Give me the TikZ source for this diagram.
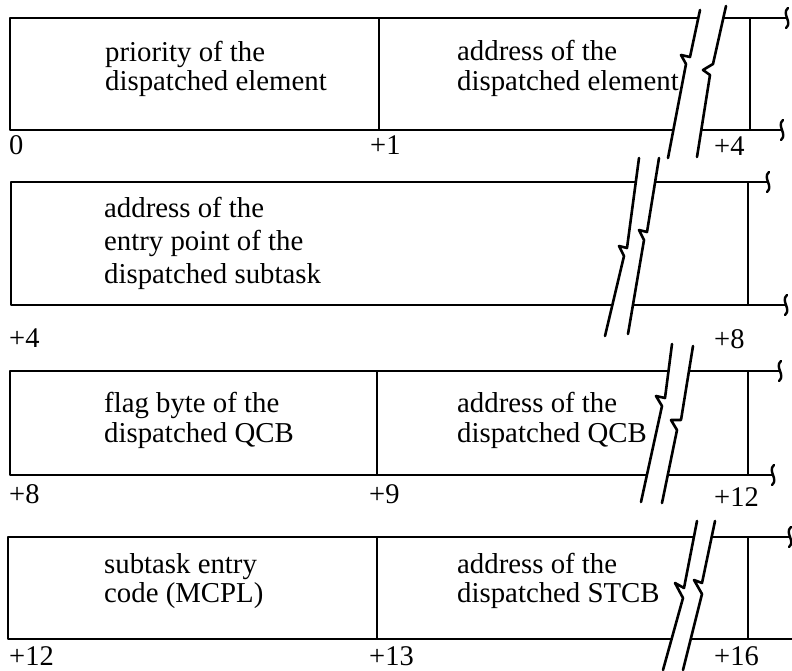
\documentclass[tikz,border=0pt]{standalone}
\usepackage{fontspec}
\setmainfont{Liberation Serif}
\begin{document}
\begin{tikzpicture}[x=1pt,y=-1pt,line join=round,
  txt/.style={inner sep=0pt,anchor=base west,font=\fontsize{28.8}{32}\selectfont},
  off/.style={inner sep=0pt,anchor=base west,font=\fontsize{28.5}{32}\selectfont},
  frame/.style={line width=2.6pt,line cap=butt},
  brk/.style={line width=2.6pt,line cap=round},
  gap/.style={fill=white,draw=none},
  wavy/.pic={\draw[line width=2.4pt,line cap=round] (1,-10) .. controls (-6,-4) and (6,4) .. (-1,10);}]
\useasboundingbox (0,0) rectangle (792,671);

% ---------------- row 1 ----------------
\draw[frame] (786,18) -- (10,18) -- (10,130) -- (781,130);
\draw[frame] (379,18) -- (379,130);
\draw[frame] (750,18) -- (750,130);
\pic at (787,18) {wavy};
\pic at (782,130) {wavy};
\fill[gap] (700,10) -- (690,57) -- (681,55) -- (686,64) -- (668,158)
  -- (697,157) -- (710,75) -- (703,70) -- (713,64) -- (726,6) -- cycle;
\draw[brk] (700,10) -- (690,57) -- (681,55) -- (686,64) -- (668,158);
\draw[brk] (726,6) -- (713,64) -- (703,70) -- (710,75) -- (697,157);
\node[txt] (r1a) at (105,62) {priority of the};
\node[txt] (r1b) at (105,91) {dispatched element};
\node[txt] (r1c) at (457,61) {address of the};
\node[txt] (r1d) at (457,91) {dispatched element};
\node[off] (o0) at (9,155) {0};
\node[off] (o1) at (370,155) {+1};
\node[off] (o4a) at (714,156) {+4};

% ---------------- row 2 ----------------
\draw[frame] (767,182) -- (11,182) -- (11,305) -- (785,305);
\draw[frame] (748,182) -- (748,305);
\pic at (768,182) {wavy};
\pic at (786,305) {wavy};
\fill[gap] (639,158) -- (627,248) -- (619,246) -- (624,256) -- (605,336)
  -- (628,334) -- (644,240) -- (639,230) -- (647,232) -- (659,158) -- cycle;
\draw[brk] (639,158) -- (627,248) -- (619,246) -- (624,256) -- (605,336);
\draw[brk] (659,158) -- (647,232) -- (639,230) -- (644,240) -- (628,334);
\node[txt] (r2a) at (104,218) {address of the};
\node[txt] (r2b) at (104,250.5) {entry point of the};
\node[txt] (r2c) at (104,283) {dispatched subtask};
\node[off] (o4b) at (9,347) {+4};
\node[off] (o8a) at (714,348) {+8};

% ---------------- row 3 ----------------
\draw[frame] (779,371) -- (10,371) -- (10,475) -- (772,475);
\draw[frame] (377,371) -- (377,475);
\draw[frame] (748,371) -- (748,475);
\pic at (780,371) {wavy};
\pic at (773,475) {wavy};
\fill[gap] (672,344) -- (665,398) -- (656,396) -- (662,406) -- (641,502)
  -- (662,503) -- (677,430) -- (671,420) -- (681,420) -- (693,346) -- cycle;
\draw[brk] (672,344) -- (665,398) -- (656,396) -- (662,406) -- (641,502);
\draw[brk] (693,346) -- (681,420) -- (671,420) -- (677,430) -- (662,503);
\node[txt] (r3a) at (104,412) {flag byte of the};
\node[txt] (r3b) at (104,442) {dispatched QCB};
\node[txt] (r3c) at (457,412) {address of the};
\node[txt] (r3d) at (457,442) {dispatched QCB};
\node[off] (o8b) at (9,503) {+8};
\node[off] (o9) at (369,503) {+9};
\node[off] (o12a) at (714,506) {+12};

% ---------------- row 4 ----------------
\draw[frame] (789,537) -- (8,537) -- (8,639) -- (792,639);
\draw[frame] (377,537) -- (377,639);
\draw[frame] (748,537) -- (748,639);
\pic at (790,537) {wavy};
\fill[gap] (697,521) -- (684,588) -- (675,583) -- (683,598) -- (663,670)
  -- (683,670) -- (702,594) -- (694,580) -- (702,583) -- (715,521) -- cycle;
\draw[brk] (697,521) -- (684,588) -- (675,583) -- (683,598) -- (663,670);
\draw[brk] (715,521) -- (702,583) -- (694,580) -- (702,594) -- (683,670);
\node[txt] (r4a) at (104,573) {subtask entry};
\node[txt] (r4b) at (104,602) {code (MCPL)};
\node[txt] (r4c) at (457,573) {address of the};
\node[txt] (r4d) at (457,602) {dispatched STCB};
\node[off] (o12b) at (9,665) {+12};
\node[off] (o13) at (369,665) {+13};
\node[off] (o16) at (714,665) {+16};
\end{tikzpicture}
\end{document}
